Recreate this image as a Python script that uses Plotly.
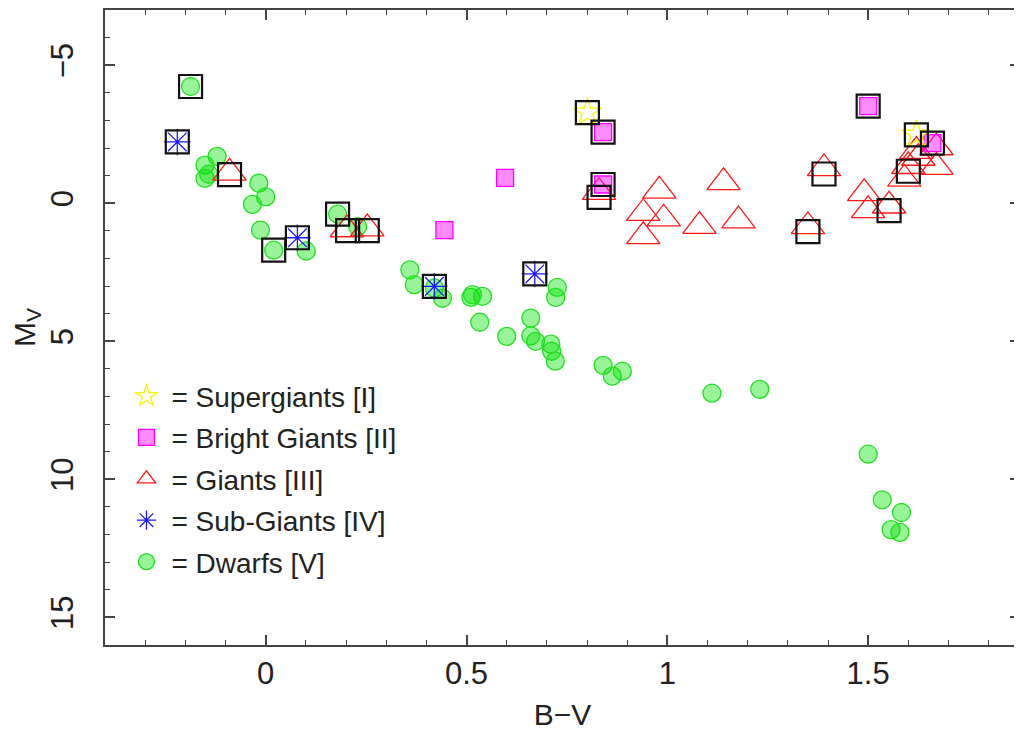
import plotly.graph_objects as go

# Supergiants [I]
sg_bv = [0.801, 1.620]
sg_mv = [-3.28, -2.48]

# Bright Giants [II]
bg_bv = [0.596, 0.445, 0.840, 0.840, 1.500, 1.660]
bg_mv = [-0.92, 0.97, -0.68, -2.58, -3.52, -2.18]

# Giants [III]
g_bv = [-0.090, 0.202, 0.253, 0.830, 0.980, 0.940, 0.991, 0.940, 1.080, 1.140, 1.177,
        1.390, 1.620, 1.670, 1.600, 1.670, 1.625, 1.590, 1.490, 1.500, 1.552, 1.350]
g_mv = [-1.10, 0.95, 0.92, -0.40, -0.45, 0.36, 0.56, 1.20, 0.83, -0.76, 0.63,
        -1.26, -1.89, -2.02, -1.34, -1.31, -1.64, -0.88, -0.36, 0.26, 0.09, 0.84]

# Sub-Giants [IV]
sub_bv = [-0.220, 0.079, 0.420, 0.670]
sub_mv = [-2.22, 1.25, 3.01, 2.56]

# Dwarfs [V]
dw_bv = [-0.187, -0.121, -0.151, -0.151, -0.142, -0.017, 0.000, -0.033, -0.013, 0.020,
         0.101, 0.179, 0.229, 0.359, 0.370, 0.420, 0.440, 0.511, 0.540, 0.515,
         0.533, 0.600, 0.726, 0.722, 0.660, 0.660, 0.672, 0.710, 0.712, 0.721,
         0.840, 0.863, 0.888, 1.111, 1.230, 1.500, 1.535, 1.583, 1.557, 1.579]
dw_mv = [-4.23, -1.70, -1.38, -0.90, -1.05, -0.73, -0.23, 0.04, 0.97, 1.70,
         1.73, 0.39, 0.85, 2.41, 2.95, 3.07, 3.44, 3.41, 3.37, 3.31,
         4.31, 4.82, 3.05, 3.41, 4.16, 4.80, 5.00, 5.10, 5.36, 5.72,
         5.87, 6.26, 6.08, 6.88, 6.74, 9.09, 10.74, 11.20, 11.82, 11.92]

# Boxed (highlighted) stars
box_bv = [-0.187, -0.220, -0.090, 0.020, 0.079, 0.179, 0.204, 0.253, 0.420, 0.670,
          0.801, 0.840, 0.840, 0.830, 1.500, 1.620, 1.660, 1.390, 1.600, 1.552, 1.350]
box_mv = [-4.23, -2.22, -1.04, 1.70, 1.25, 0.39, 0.99, 0.99, 3.01, 2.56,
          -3.28, -2.58, -0.68, -0.21, -3.52, -2.48, -2.18, -1.06, -1.16, 0.27, 1.03]

FONT = "Liberation Sans"

fig = go.Figure()

fig.add_trace(go.Scatter(
    x=dw_bv, y=dw_mv, mode="markers", name="= Dwarfs [V]", legendrank=5, legendgroup="v",
    marker=dict(symbol="circle", size=18, color="rgba(0,225,0,0.40)",
                line=dict(color="#22e022", width=1.3))))
fig.add_trace(go.Scatter(
    x=g_bv, y=g_mv, mode="markers", name="= Giants [III]", legendrank=3, legendgroup="iii",
    marker=dict(symbol="triangle-up-open", size=29, color="#ff1a1a",
                line=dict(width=1.3))))
fig.add_trace(go.Scatter(
    x=bg_bv, y=bg_mv, mode="markers", name="= Bright Giants [II]", legendrank=2, legendgroup="ii",
    marker=dict(symbol="square", size=17, color="rgba(255,0,255,0.45)",
                line=dict(color="#ff00ff", width=1.3))))
fig.add_trace(go.Scatter(
    x=sub_bv, y=sub_mv, mode="markers", name="= Sub-Giants [IV]", legendrank=4, legendgroup="iv",
    marker=dict(symbol="asterisk-open", size=22, color="#1a1aff",
                line=dict(width=1.3))))
fig.add_trace(go.Scatter(
    x=sg_bv, y=sg_mv, mode="markers", name="= Supergiants [I]", legendrank=1, legendgroup="i",
    marker=dict(symbol="star-open", size=21, color="#f5f500",
                line=dict(width=1.3))))
fig.add_trace(go.Scatter(
    x=box_bv, y=box_mv, mode="markers", showlegend=False, hoverinfo="skip",
    marker=dict(symbol="square-open", size=23, color="#111111",
                line=dict(width=2.2))))

axis_common = dict(
    showline=True, linecolor="#444444", linewidth=2, mirror="ticks",
    ticks="inside", ticklen=10, tickwidth=1.6, tickcolor="#444444",
    showgrid=False, zeroline=False,
    tickfont=dict(family=FONT, size=31, color="#222222"),
)

fig.update_layout(
    width=1014, height=728,
    margin=dict(l=97, r=0, t=0, b=91),
    paper_bgcolor="white", plot_bgcolor="white",
    font=dict(family=FONT, color="#222222"),
    xaxis=dict(range=[-0.4, 1.878], dtick=0.5, tick0=0,
               minor=dict(dtick=0.1, ticks="inside", ticklen=5, tickcolor="#444444", tickwidth=1.4),
               title=dict(text="B\u2212V", font=dict(family=FONT, size=30), standoff=14),
               **axis_common),
    yaxis=dict(range=[16, -7], dtick=5, tick0=0, tickangle=-90,
               minor=dict(dtick=1, ticks="inside", ticklen=5, tickcolor="#444444", tickwidth=1.4),
               title=dict(text="M<sub>V</sub>", font=dict(family=FONT, size=30), standoff=8),
               ticklabelstandoff=18,
               **axis_common),
    legend=dict(x=0.018, y=0.431, xanchor="left", yanchor="top",
                bgcolor="rgba(0,0,0,0)", borderwidth=0,
                font=dict(family=FONT, size=28, color="#222222"),
                itemwidth=40, traceorder="grouped", tracegroupgap=2),
    showlegend=True,
)

fig.write_html("out.html")
